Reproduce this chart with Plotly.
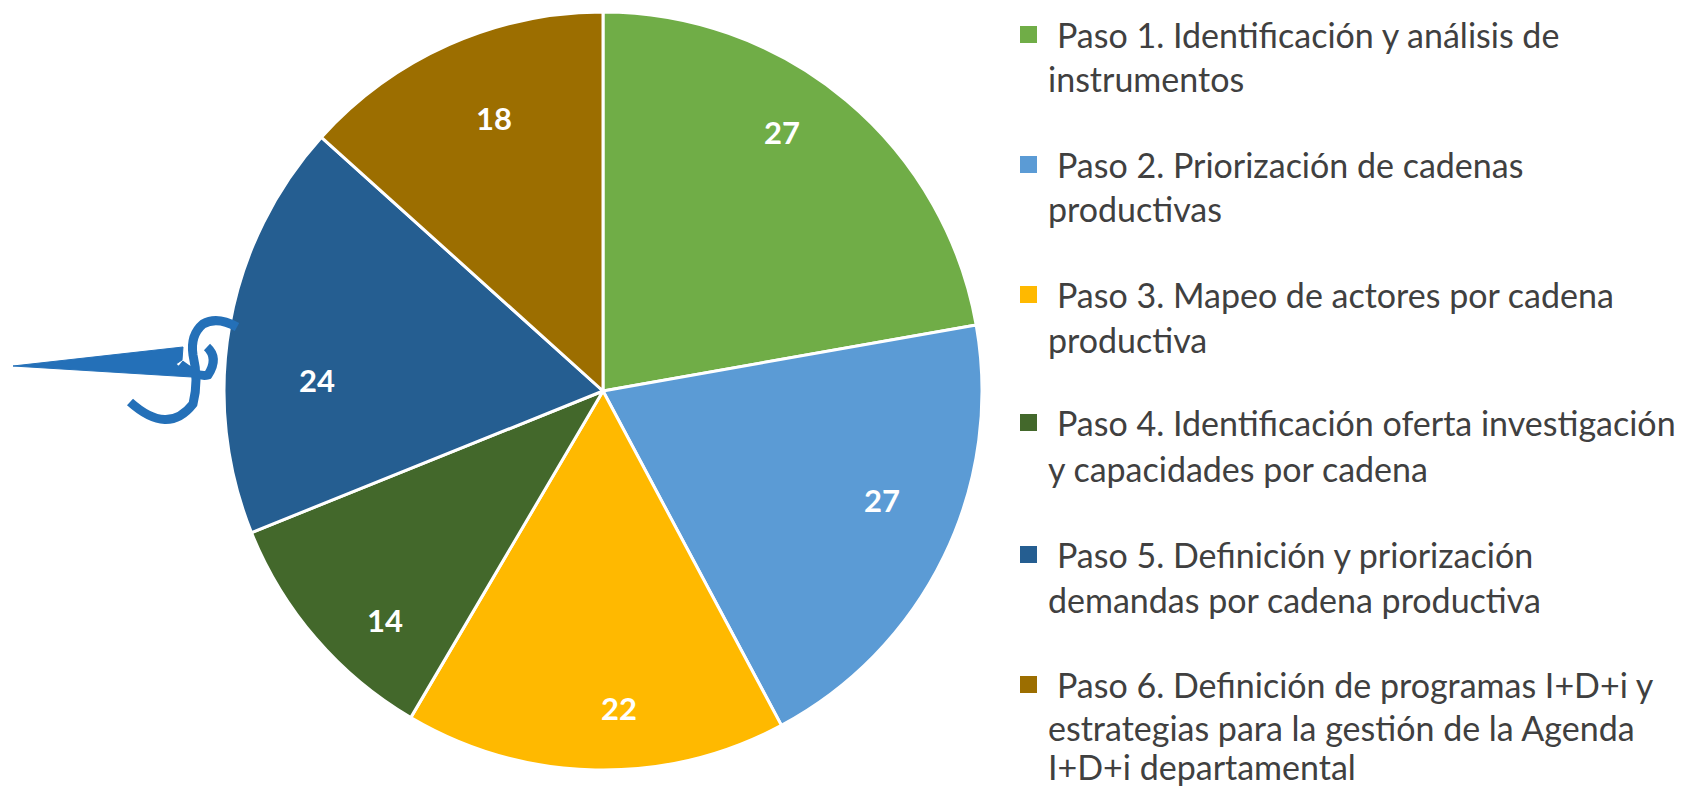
import plotly.graph_objects as go

# The page has an 8 px body margin, so the figure is 8 px smaller than the window each way
PAGE_W, PAGE_H, BODY = 1686, 790, 8
W, H = PAGE_W - BODY, PAGE_H - BODY

categories = ["Paso 1", "Paso 2", "Paso 3", "Paso 4", "Paso 5", "Paso 6"]
printed_labels = [27, 27, 22, 14, 24, 18]
slice_shares = [80.0, 72.0, 58.6, 37.6, 64.0, 48.0]
colors = ["#70AD47", "#5B9BD5", "#FFB900", "#43682B", "#255E91", "#9C6E00"]

legend_lines = [
    ["Paso 1. Identificación y análisis de", "instrumentos"],
    ["Paso 2. Priorización de cadenas", "productivas"],
    ["Paso 3. Mapeo de actores por cadena", "productiva"],
    ["Paso 4. Identificación oferta investigación", "y capacidades por cadena"],
    ["Paso 5. Definición y priorización", "demandas por cadena productiva"],
    ["Paso 6. Definición de programas I+D+i y",
     "estrategias para la gestión de la Agenda",
     "I+D+i departamental"],
]

# Layout constants, in page pixels
label_xy = [(782, 132), (882, 500), (619, 708), (385, 620), (317, 380), (494, 118)]
legend_y = [[34, 79], [164, 209], [294, 339], [422, 468], [554, 599], [684, 727, 766]]


def px(x):
    return (x - BODY) / W


def py(y):
    return 1 - (y - BODY) / H


fig = go.Figure(go.Pie(
    labels=categories,
    values=slice_shares,
    text=printed_labels,
    textinfo="none",
    sort=False,
    direction="clockwise",
    rotation=0,
    marker=dict(colors=colors, line=dict(color="white", width=3)),
    domain=dict(x=[px(224), px(982)], y=[py(771), py(11)]),
    showlegend=False,
))

annotations = []
for (x, y), t in zip(label_xy, printed_labels):
    annotations.append(dict(
        x=px(x), y=py(y), xref="paper", yref="paper", text=f"<b>{t}</b>", showarrow=False,
        xanchor="center", yanchor="middle", font=dict(family="Lato", size=31, color="white"),
    ))

shapes = []
for lines, ys, c in zip(legend_lines, legend_y, colors):
    for i, (line, y) in enumerate(zip(lines, ys)):
        annotations.append(dict(
            x=px(1055 if i == 0 else 1046), y=py(y), xref="paper", yref="paper", text=line,
            showarrow=False, xanchor="left", yanchor="middle",
            font=dict(family="Lato", size=34, color="#404040"),
        ))
    shapes.append(dict(
        type="rect", xref="paper", yref="paper", x0=px(1020), x1=px(1037),
        y0=py(ys[0] - 8), y1=py(ys[0] + 9), fillcolor=c, line=dict(width=0),
    ))


def path(points, close=False, curve=True):
    p = [f"{px(x)} {py(y)}" for x, y in points]
    if curve:
        s = "M" + p[0]
        for i in range(1, len(p) - 1, 2):
            s += f" Q{p[i]} {p[i + 1]}"
    else:
        s = "M" + " L".join(p)
    return s + (" Z" if close else "")


LOGO = "#2470B8"
shapes += [
    dict(type="path", xref="paper", yref="paper", fillcolor=LOGO, line=dict(width=1, color=LOGO),
         path=path([(13, 366), (183, 347), (182, 360), (176, 364), (192, 377)], close=True, curve=False)),
    dict(type="path", xref="paper", yref="paper", line=dict(width=9, color=LOGO),
         path=path([(237, 327), (217, 316), (203, 324), (190, 335), (193, 355),
                    (199, 380), (193, 404), (168, 436), (130, 402)])),
    dict(type="path", xref="paper", yref="paper", line=dict(width=9, color=LOGO),
         path=path([(207, 347), (219, 358), (208, 375), (198, 378), (180, 364)])),
]

fig.update_layout(
    width=W, height=H,
    margin=dict(l=0, r=0, t=0, b=0),
    paper_bgcolor="white",
    annotations=annotations,
    shapes=shapes,
)
fig.write_html("out.html")
